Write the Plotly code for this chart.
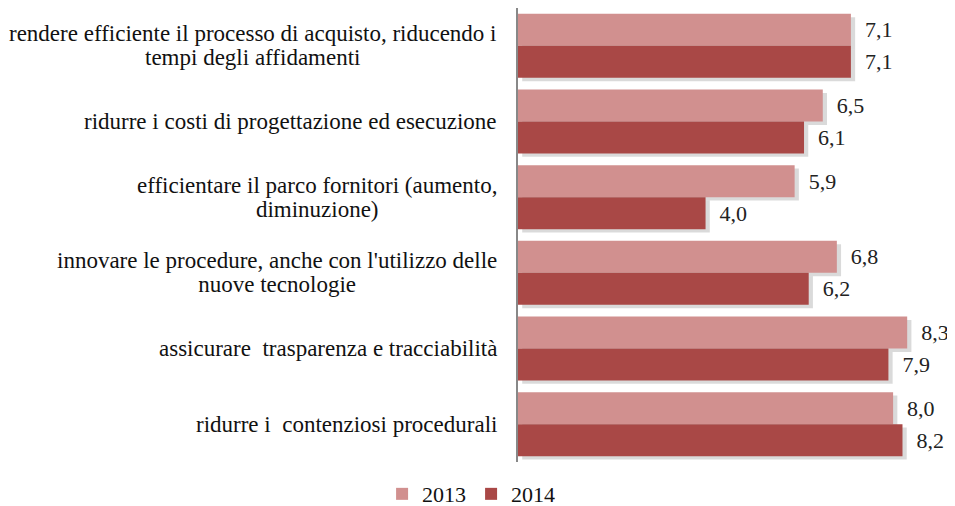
import plotly.graph_objects as go

categories = [
    "rendere efficiente il processo di acquisto, riducendo i<br>tempi degli affidamenti",
    "ridurre i costi di progettazione ed esecuzione",
    "efficientare il parco fornitori (aumento,<br>diminuzione)",
    "innovare le procedure, anche con l'utilizzo delle<br>nuove tecnologie",
    "assicurare  trasparenza e tracciabilità",
    "ridurre i  contenziosi procedurali",
]
keys = ["c1", "c2", "c3", "c4", "c5", "c6"]
years = ["2013", "2014"]
values_2013 = [7.1, 6.5, 5.9, 6.8, 8.3, 8.0]
values_2014 = [7.1, 6.1, 4.0, 6.2, 7.9, 8.2]

FONT = "'Liberation Serif', 'DejaVu Serif', serif"
COLORS = ["#D1908F", "#A94846"]
BW = 0.4225          # bar thickness in category units
SH = 0.045           # shadow shift (style)

fig = go.Figure()
series = [values_2013, values_2014]
offsets = [-BW, 0.0]

# soft drop shadows
for vals, off in zip(series, offsets):
    fig.add_trace(go.Bar(
        y=keys, x=vals, base=0.09, orientation="h", width=BW, offset=off + SH,
        marker=dict(color="rgba(100,100,100,0.24)", line=dict(width=0)),
        showlegend=False, hoverinfo="skip",
    ))

for name, vals, off, col in zip(years, series, offsets, COLORS):
    fig.add_trace(go.Bar(
        y=keys, x=vals, orientation="h", name=name, width=BW, offset=off,
        marker=dict(color=col, line=dict(width=0)),
        text=vals, texttemplate="\u00a0\u00a0%{x:.1f}", textposition="outside",
        textfont=dict(family=FONT, size=22, color="#222"), cliponaxis=False,
    ))

annotations = []
for k, c in zip(keys, categories):
    txt = "<br>".join("<span style='font-size:23px'>%s</span>" % ln for ln in c.split("<br>"))
    annotations.append(dict(
        x=-0.045, xref="paper", y=k, yref="y", text=txt, showarrow=False,
        xanchor="right", yanchor="middle", align="center",
        font=dict(family=FONT, size=18.5, color="#111"),
    ))

fig.update_layout(
    width=947, height=498,
    margin=dict(l=510, r=15, t=0, b=44, autoexpand=False),
    paper_bgcolor="white", plot_bgcolor="white",
    barmode="overlay",
    separators=",.",
    showlegend=True,
    legend=dict(orientation="h", x=0.489, xref="container", xanchor="center",
                y=0.024, yref="container", yanchor="middle",
                font=dict(family=FONT, size=22, color="#111"),
                itemwidth=30),
    annotations=annotations,
    xaxis=dict(range=[0, 9], showgrid=False, showticklabels=False, zeroline=False,
               showline=False),
    yaxis=dict(autorange="reversed", showticklabels=False, showgrid=False,
               showline=True, linecolor="#888", linewidth=2, ticks=""),
)
fig.write_html("out.html")
